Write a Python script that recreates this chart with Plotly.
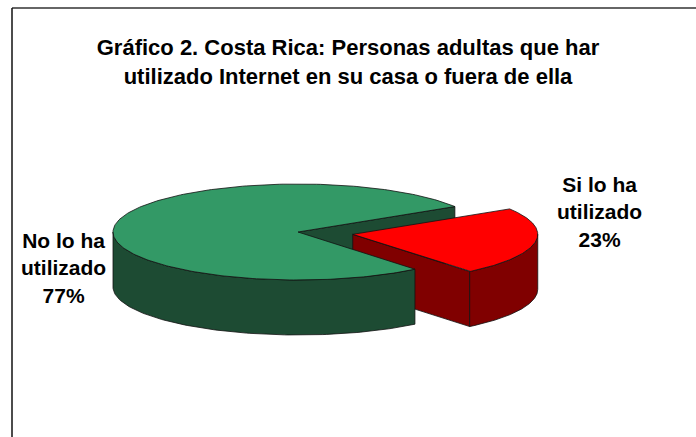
import numpy as np
import plotly.graph_objects as go

# ---- data ----
labels = ["Si lo ha<br>utilizado", "No lo ha<br>utilizado"]
values = [23, 77]
top_colors = ["#FF0000", "#339966"]
side_colors = ["#800000", "#1D4B33"]
explode = [0.30, 0.0]
title_text = "<b>Gráfico 2. Costa Rica: Personas adultas que har<br>utilizado Internet en su casa o fuera de ella</b>"

# ---- geometry (pixel space of the page) ----
W, H = 696, 437
cx, cy = 298.0, 232.0
a, b = 185.0, 48.0
depth = 55.0
start_deg = 32.0  # first slice starts here and runs clockwise

total = float(sum(values))
spans = [v / total * 360.0 for v in values]

# slice angular ranges (degrees, math convention), clockwise from start
ranges = []
s = start_deg
for sp in spans:
    ranges.append((s - sp, s))  # (low, high)
    s -= sp


def rim(t_deg, ox, oy, dz=0.0):
    t = np.radians(t_deg)
    return ox + a * np.cos(t), oy - b * np.sin(t) + dz


def offsets(i):
    lo, hi = ranges[i]
    mid = np.radians((lo + hi) / 2.0)
    return cx + explode[i] * a * np.cos(mid), cy - explode[i] * b * np.sin(mid)


fig = go.Figure()


def poly(xs, ys, fill, name):
    xs = list(xs) + [xs[0]]
    ys = list(ys) + [ys[0]]
    fig.add_trace(go.Scatter(
        x=xs, y=ys, mode="lines", fill="toself", fillcolor=fill,
        line=dict(color="#111111", width=0.8), hoverinfo="skip",
        showlegend=False, name=name))


def radial_face(i, t_deg):
    ox, oy = offsets(i)
    px, py = rim(t_deg, ox, oy)
    poly([ox, px, px, ox], [oy, py, py + depth, oy + depth], side_colors[i], "face")


def outer_side(i):
    ox, oy = offsets(i)
    lo, hi = ranges[i]
    # visible front half: angles in [180, 360] (mod 360)
    segs = []
    for k in (-1, 0, 1):
        l = max(lo, 180 + 360 * k)
        h = min(hi, 360 + 360 * k)
        if h > l:
            segs.append((l, h))
    for l, h in segs:
        ts = np.linspace(l, h, 120)
        tx, ty = rim(ts, ox, oy)
        bx, by = rim(ts[::-1], ox, oy, depth)
        poly(np.concatenate([tx, bx]), np.concatenate([ty, by]), side_colors[i], "side")


def top_face(i):
    ox, oy = offsets(i)
    lo, hi = ranges[i]
    ts = np.linspace(lo, hi, 240)
    tx, ty = rim(ts, ox, oy)
    poly(np.concatenate([[ox], tx]), np.concatenate([[oy], ty]), top_colors[i], "top")


red, green = 0, 1
radial_face(green, ranges[green][0])
radial_face(red, ranges[red][0])
outer_side(green)
top_face(green)
outer_side(red)
top_face(red)

lab_font = dict(family="Liberation Sans, Arial, sans-serif", size=21, color="#000000")
fig.add_annotation(x=63, y=268, text="<b>" + labels[1] + "<br>%d%%</b>" % values[1],
                   showarrow=False, font=lab_font, xanchor="center", yanchor="middle")
fig.add_annotation(x=599, y=212, text="<b>" + labels[0] + "<br>%d%%</b>" % values[0],
                   showarrow=False, font=lab_font, xanchor="center", yanchor="middle")

# frame lines (left and top)
fig.add_shape(type="line", xref="x", yref="y", x0=12, x1=W + 5, y0=8, y1=8,
              line=dict(color="#333333", width=1.5))
fig.add_shape(type="line", xref="x", yref="y", x0=12, x1=12, y0=8, y1=H + 5,
              line=dict(color="#111111", width=1.5))

fig.update_layout(
    width=W, height=H,
    margin=dict(l=0, r=0, t=0, b=0),
    paper_bgcolor="white", plot_bgcolor="white",
    title=dict(text=title_text, x=0.5, xanchor="center",
               y=1 - 55.0 / H, yanchor="middle", yref="container",
               font=dict(family="Liberation Sans, Arial, sans-serif", size=22, color="#000000")),
    xaxis=dict(range=[0, W], visible=False, fixedrange=True),
    yaxis=dict(range=[H, 0], visible=False, fixedrange=True),
    showlegend=False,
)

fig.write_html("out.html")
